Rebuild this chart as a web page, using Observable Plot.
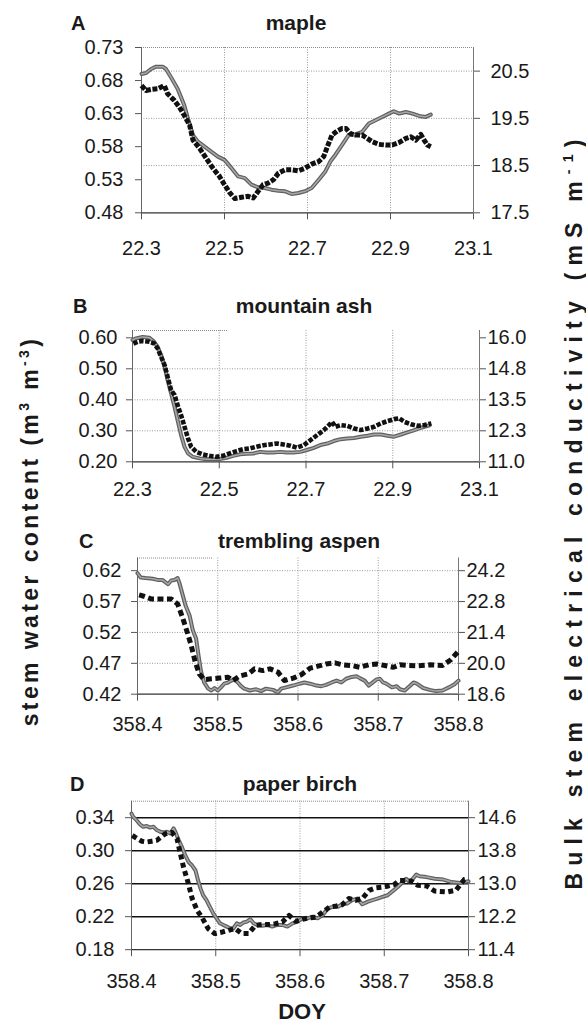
<!DOCTYPE html>
<html><head><meta charset="utf-8">
<script src="https://cdn.jsdelivr.net/npm/d3@7"></script>
<script src="https://cdn.jsdelivr.net/npm/@observablehq/plot@0.6"></script>
<style>
html,body{margin:0;padding:0;background:#fff;}
#wrap{position:relative;width:586px;height:1026px;overflow:hidden;}
#wrap svg{position:absolute;left:0;}
</style></head>
<body><div id="wrap"></div>
<script>
const FONT = '"Liberation Sans", Arial, Helvetica, sans-serif';

// ---------- Panel A: maple ----------
const mapleWcDoy = [22.300,22.311,22.323,22.335,22.351,22.359,22.371,22.387,22.403,22.412,22.424,22.436,22.452,22.468,22.484,22.500,22.517,22.533,22.549,22.565,22.581,22.597,22.613,22.630,22.646,22.662,22.678,22.694,22.710,22.727,22.743,22.755,22.767,22.783,22.799,22.815,22.832,22.848,22.864,22.880,22.896,22.908,22.921,22.937,22.953,22.969,22.985,22.997];
const mapleWc = [0.690,0.6915,0.6975,0.701,0.701,0.6975,0.685,0.6675,0.6425,0.6225,0.5975,0.5875,0.580,0.5725,0.565,0.560,0.5475,0.535,0.5325,0.5225,0.5185,0.5175,0.515,0.5135,0.5125,0.5085,0.510,0.5125,0.5175,0.530,0.5425,0.5575,0.5675,0.5825,0.5975,0.5985,0.6025,0.615,0.620,0.625,0.630,0.6335,0.630,0.6325,0.630,0.6265,0.625,0.6285];
const mapleEcDoy = [22.300,22.311,22.323,22.339,22.355,22.363,22.379,22.391,22.403,22.416,22.424,22.440,22.456,22.472,22.488,22.500,22.513,22.525,22.541,22.557,22.569,22.581,22.593,22.605,22.618,22.630,22.646,22.662,22.678,22.694,22.710,22.727,22.739,22.751,22.759,22.771,22.783,22.793,22.803,22.815,22.832,22.844,22.856,22.872,22.888,22.904,22.921,22.937,22.949,22.961,22.973,22.981,22.989,22.997];
const mapleEc = [20.195,20.09,20.111,20.125,20.195,20.02,19.88,19.74,19.565,19.355,19.04,18.865,18.655,18.445,18.27,18.095,17.92,17.801,17.829,17.85,17.815,17.955,18.095,18.13,18.2,18.34,18.41,18.41,18.389,18.445,18.529,18.585,18.69,18.97,19.145,19.229,19.285,19.285,19.18,19.145,19.145,19.075,19.005,18.949,18.935,18.935,18.991,19.075,19.11,19.04,19.159,19.04,18.935,18.9];

// ---------- Panel B: mountain ash ----------
const ashWcDoy = [22.300,22.308,22.323,22.339,22.350,22.358,22.366,22.374,22.381,22.389,22.397,22.404,22.412,22.420,22.428,22.439,22.455,22.470,22.486,22.501,22.517,22.532,22.548,22.563,22.579,22.594,22.609,22.625,22.640,22.656,22.671,22.687,22.702,22.718,22.733,22.749,22.764,22.780,22.795,22.811,22.826,22.842,22.857,22.873,22.888,22.903,22.919,22.934,22.950,22.965,22.985];
const ashWc = [0.593,0.598,0.603,0.600,0.587,0.571,0.544,0.507,0.463,0.420,0.377,0.334,0.286,0.248,0.227,0.216,0.211,0.208,0.208,0.209,0.213,0.219,0.224,0.226,0.227,0.232,0.230,0.230,0.232,0.230,0.230,0.232,0.238,0.245,0.254,0.259,0.267,0.273,0.275,0.277,0.281,0.284,0.288,0.288,0.284,0.281,0.288,0.295,0.302,0.310,0.318];
const ashEcDoy = [22.302,22.312,22.323,22.339,22.350,22.358,22.366,22.374,22.381,22.389,22.397,22.404,22.412,22.420,22.428,22.435,22.447,22.462,22.478,22.493,22.509,22.524,22.540,22.555,22.571,22.586,22.602,22.617,22.633,22.648,22.664,22.679,22.695,22.710,22.726,22.741,22.753,22.760,22.768,22.780,22.795,22.811,22.826,22.842,22.857,22.873,22.888,22.903,22.915,22.927,22.942,22.958,22.973,22.989];
const ashEc = [15.77,15.84,15.87,15.84,15.77,15.57,15.23,14.90,14.43,13.89,13.69,13.29,12.88,12.41,11.94,11.61,11.40,11.30,11.24,11.20,11.24,11.34,11.43,11.51,11.54,11.61,11.67,11.70,11.74,11.70,11.65,11.57,11.67,11.87,12.08,12.28,12.48,12.61,12.41,12.48,12.45,12.34,12.28,12.34,12.41,12.55,12.64,12.72,12.75,12.61,12.51,12.45,12.48,12.55];

// ---------- Panel C: trembling aspen ----------
const aspenWcDoy = [358.400,358.404,358.410,358.419,358.425,358.431,358.438,358.442,358.446,358.450,358.452,358.456,358.460,358.465,358.469,358.473,358.476,358.479,358.483,358.488,358.492,358.496,358.500,358.504,358.508,358.513,358.517,358.521,358.525,358.529,358.533,358.540,358.548,358.554,358.560,358.569,358.575,358.579,358.585,358.594,358.602,358.608,358.615,358.623,358.629,358.635,358.642,358.648,358.654,358.660,358.667,358.673,358.677,358.683,358.688,358.692,358.698,358.702,358.706,358.710,358.717,358.723,358.727,358.733,358.740,358.744,358.748,358.756,358.764,358.772,358.780,358.788,358.795,358.800];
const aspenWc = [0.616,0.609,0.608,0.607,0.605,0.605,0.598,0.604,0.605,0.608,0.601,0.582,0.563,0.547,0.523,0.510,0.483,0.458,0.439,0.429,0.426,0.430,0.426,0.431,0.437,0.439,0.442,0.444,0.439,0.433,0.429,0.426,0.428,0.425,0.429,0.427,0.423,0.429,0.431,0.434,0.437,0.439,0.437,0.434,0.433,0.435,0.439,0.442,0.439,0.445,0.448,0.449,0.446,0.442,0.434,0.438,0.444,0.445,0.439,0.437,0.431,0.433,0.428,0.426,0.434,0.439,0.437,0.430,0.427,0.425,0.426,0.431,0.436,0.442];
const aspenEcDoy = [358.402,358.408,358.417,358.425,358.433,358.442,358.450,358.456,358.462,358.467,358.472,358.477,358.483,358.492,358.502,358.513,358.519,358.527,358.538,358.546,358.556,358.565,358.575,358.583,358.594,358.604,358.615,358.625,358.635,358.646,358.656,358.667,358.677,358.688,358.698,358.708,358.719,358.727,358.738,358.750,358.765,358.780,358.790,358.800];
const aspenEc = [23.10,23.04,22.92,22.92,22.92,22.92,22.69,22.09,21.41,20.80,20.05,19.52,19.26,19.30,19.33,19.37,19.22,19.42,19.52,19.75,19.67,19.75,19.60,19.22,19.33,19.48,19.78,19.87,19.97,20.02,19.93,19.90,19.82,19.93,19.97,19.90,19.82,19.93,19.90,19.89,19.93,19.90,20.15,20.55];

// ---------- Panel D: paper birch ----------
const birchWcDoy = [358.400,358.402,358.406,358.410,358.414,358.418,358.422,358.426,358.430,358.434,358.438,358.442,358.446,358.450,358.452,358.456,358.460,358.464,358.468,358.472,358.476,358.479,358.482,358.485,358.489,358.493,358.497,358.501,358.505,358.509,358.513,358.517,358.521,358.525,358.529,358.533,358.537,358.541,358.545,358.549,358.555,358.561,358.567,358.573,358.579,358.585,358.591,358.597,358.603,358.609,358.615,358.621,358.627,358.633,358.639,358.645,358.650,358.656,358.662,358.668,358.674,358.680,358.686,358.692,358.698,358.704,358.710,358.716,358.722,358.726,358.730,358.734,358.738,358.742,358.750,358.760,358.770,358.780,358.790,358.800];
const birchWc = [0.345,0.341,0.337,0.332,0.329,0.330,0.328,0.329,0.325,0.323,0.322,0.323,0.321,0.327,0.323,0.313,0.304,0.294,0.286,0.282,0.276,0.264,0.254,0.246,0.240,0.232,0.224,0.218,0.212,0.210,0.208,0.206,0.206,0.212,0.210,0.213,0.214,0.217,0.212,0.210,0.209,0.210,0.208,0.210,0.210,0.208,0.212,0.214,0.218,0.218,0.220,0.218,0.222,0.230,0.232,0.232,0.235,0.236,0.240,0.242,0.235,0.238,0.240,0.242,0.244,0.246,0.251,0.256,0.262,0.266,0.262,0.266,0.271,0.269,0.268,0.266,0.265,0.262,0.261,0.263];
const birchEcDoy = [358.401,358.404,358.412,358.418,358.424,358.430,358.440,358.448,358.454,358.458,358.462,358.467,358.472,358.478,358.484,358.491,358.499,358.508,358.515,358.523,358.531,358.539,358.547,358.555,358.563,358.571,358.579,358.587,358.595,358.603,358.611,358.619,358.627,358.635,358.643,358.650,358.658,358.666,358.674,358.682,358.690,358.698,358.704,358.712,358.718,358.724,358.732,358.740,358.750,358.760,358.775,358.785,358.795,358.800];
const birchEc = [14.17,14.13,14.03,14.01,14.03,14.05,14.21,14.24,14.09,13.73,13.38,13.04,12.64,12.35,12.17,11.91,11.79,11.83,11.87,11.91,11.79,11.79,11.99,12.01,12.01,12.03,12.07,12.23,12.09,12.14,12.17,12.19,12.31,12.43,12.46,12.49,12.64,12.60,12.64,12.84,12.90,12.92,12.94,12.98,13.08,13.08,13.06,12.96,12.95,12.82,12.80,12.84,13.10,13.12];

// ---------- ticks & labels ----------
const doyTicksAB = [22.3, 22.5, 22.7, 22.9, 23.1];
const doyLabelsAB = ["22.3", "22.5", "22.7", "22.9", "23.1"];
const doyTicksCD = [358.4, 358.5, 358.6, 358.7, 358.8];
const doyLabelsCD = ["358.4", "358.5", "358.6", "358.7", "358.8"];

const mapleLeftTicks = [0.48, 0.53, 0.58, 0.63, 0.68, 0.73];
const mapleLeftLabels = ["0.48", "0.53", "0.58", "0.63", "0.68", "0.73"];
const mapleRightTicks = [17.5, 18.5, 19.5, 20.5];
const mapleRightLabels = ["17.5", "18.5", "19.5", "20.5"];

const ashLeftTicks = [0.2, 0.3, 0.4, 0.5, 0.6];
const ashLeftLabels = ["0.20", "0.30", "0.40", "0.50", "0.60"];
const ashRightTicks = [11.0, 12.25, 13.5, 14.75, 16.0];
const ashRightLabels = ["11.0", "12.3", "13.5", "14.8", "16.0"];

const aspenLeftTicks = [0.42, 0.47, 0.52, 0.57, 0.62];
const aspenLeftLabels = ["0.42", "0.47", "0.52", "0.57", "0.62"];
const aspenRightTicks = [18.6, 20.0, 21.4, 22.8, 24.2];
const aspenRightLabels = ["18.6", "20.0", "21.4", "22.8", "24.2"];

const birchLeftTicks = [0.18, 0.22, 0.26, 0.30, 0.34];
const birchLeftLabels = ["0.18", "0.22", "0.26", "0.30", "0.34"];
const birchRightTicks = [11.4, 12.2, 13.0, 13.8, 14.6];
const birchRightLabels = ["11.4", "12.2", "13.0", "13.8", "14.6"];

const panelLetters = ["A", "B", "C", "D"];
const panelTitles = ["maple", "mountain ash", "trembling aspen", "paper birch"];
const xAxisTitle = "DOY";

// ---------- layout ----------
const W = 586;
const panels = [
  { wcDoy: mapleWcDoy, wc: mapleWc, ecDoy: mapleEcDoy, ec: mapleEc,
    xDomain: [22.3, 23.1], xTicks: doyTicksAB, xLabels: doyLabelsAB,
    leftDomain: [0.48, 0.73], leftTicks: mapleLeftTicks, leftLabels: mapleLeftLabels,
    rightDomain: [17.5, 21.0], rightTicks: mapleRightTicks, rightLabels: mapleRightLabels,
    gridY: { right: [18.5, 19.5, 20.5] }, gridX: [22.5, 22.7, 22.9], topFrame: true, stub: null, blackGrid: false,
    top: 0, height: 265, pl: 141, pr: 473, pt: 47, pb: 212.3,
    xPad: 21, lPad: 12, rPad: 11, dash: "5,1.6", dashW: 5 },
  { wcDoy: ashWcDoy, wc: ashWc, ecDoy: ashEcDoy, ec: ashEc,
    xDomain: [22.3, 23.1], xTicks: doyTicksAB, xLabels: doyLabelsAB,
    leftDomain: [0.20, 0.6236], leftTicks: ashLeftTicks, leftLabels: ashLeftLabels,
    rightDomain: [11.0, 16.295], rightTicks: ashRightTicks, rightLabels: ashRightLabels,
    gridY: { left: [0.3, 0.4, 0.5] }, gridX: [22.5, 22.7, 22.9], topFrame: false, stub: [22.3, 22.52], blackGrid: false,
    top: 265, height: 235, pl: 132, pr: 479, pt: 330, pb: 461.3,
    xPad: 13, lPad: 9, rPad: 2, dash: "4.5,1.6", dashW: 4.6 },
  { wcDoy: aspenWcDoy, wc: aspenWc, ecDoy: aspenEcDoy, ec: aspenEc,
    xDomain: [358.4, 358.8], xTicks: doyTicksCD, xLabels: doyLabelsCD,
    leftDomain: [0.42, 0.6405], leftTicks: aspenLeftTicks, leftLabels: aspenLeftLabels,
    rightDomain: [18.6, 24.774], rightTicks: aspenRightTicks, rightLabels: aspenRightLabels,
    gridY: { left: [0.47, 0.52, 0.57, 0.62] }, gridX: [358.5, 358.6, 358.7], topFrame: false, stub: [358.4, 358.495], blackGrid: false,
    top: 500, height: 250, pl: 137, pr: 458, pt: 557.5, pb: 693.7,
    xPad: 16, lPad: 10, rPad: 2, dash: "6,3.5", dashW: 5 },
  { wcDoy: birchWcDoy, wc: birchWc, ecDoy: birchEcDoy, ec: birchEc,
    xDomain: [358.4, 358.8], xTicks: doyTicksCD, xLabels: doyLabelsCD,
    leftDomain: [0.18, 0.360], leftTicks: birchLeftTicks, leftLabels: birchLeftLabels,
    rightDomain: [11.4, 15.0], rightTicks: birchRightTicks, rightLabels: birchRightLabels,
    gridY: { left: [0.22, 0.26, 0.30, 0.34] }, gridX: [358.5, 358.6, 358.7], topFrame: true, stub: null, blackGrid: true,
    top: 750, height: 276, pl: 131, pr: 468, pt: 800.7, pb: 949.2,
    xPad: 17, lPad: 11, rPad: 3, dash: "5,3.5", dashW: 5 }
];
const titleLayout = [
  { lx: 71, tx: 296, by: 30 },
  { lx: 73, tx: 304, by: 313 },
  { lx: 79, tx: 299, by: 548 },
  { lx: 70, tx: 300, by: 791 }
];

const wrap = document.getElementById("wrap");

function labelOf(ticks, labels) {
  return d => {
    const i = ticks.findIndex(t => Math.abs(t - d) < 1e-9);
    return i >= 0 ? labels[i] : "";
  };
}

panels.forEach(p => {
  const toLeft = d3.scaleLinear().domain(p.rightDomain).range(p.leftDomain);
  const wcRows = p.wcDoy.map((d, i) => ({ doy: d, v: p.wc[i] }));
  const ecRows = p.ecDoy.map((d, i) => ({ doy: d, v: toLeft(p.ec[i]) }));
  const rightPos = p.rightTicks.map(t => toLeft(t));
  const gridYPos = p.gridY.right ? p.gridY.right.map(t => toLeft(t)) : p.gridY.left;

  const marks = [
    Plot.ruleX(p.gridX, { stroke: "#9a9a9a", strokeWidth: 1, strokeDasharray: "1,1.5" }),
    p.blackGrid
      ? Plot.ruleY(gridYPos, { stroke: "#111", strokeWidth: 1.6 })
      : Plot.ruleY(gridYPos, { stroke: "#9a9a9a", strokeWidth: 1, strokeDasharray: "1,1.5" }),
    p.topFrame ? Plot.ruleY([p.leftDomain[1]], { stroke: "#8a8a8a", strokeWidth: 1, strokeDasharray: "1,1" }) : null,
    p.stub ? Plot.ruleY([p.leftDomain[1]], { x1: p.stub[0], x2: p.stub[1], stroke: "#8a8a8a", strokeWidth: 1, strokeDasharray: "1,1" }) : null,
    Plot.ruleX([p.xDomain[0]], { stroke: "#666", strokeWidth: 1 }),
    Plot.ruleX([p.xDomain[1]], { stroke: "#777", strokeWidth: 1 }),
    Plot.ruleY([p.leftDomain[0]], { stroke: "#333", strokeWidth: 1.2 }),
    Plot.line(wcRows, { x: "doy", y: "v", stroke: "#606060", strokeWidth: 4 }),
    Plot.line(wcRows, { x: "doy", y: "v", stroke: "#a8a8a8", strokeWidth: 1.5 }),
    Plot.line(ecRows, { x: "doy", y: "v", stroke: "#111", strokeWidth: p.dashW, strokeDasharray: p.dash, strokeLinecap: "butt" }),
    Plot.axisX(p.xTicks, { anchor: "bottom", label: null, tickSize: 7, tickPadding: p.xPad, stroke: "#555", tickFormat: labelOf(p.xTicks, p.xLabels) }),
    Plot.axisY(p.leftTicks, { anchor: "left", label: null, tickSize: 6, tickPadding: p.lPad, stroke: "#555", tickFormat: labelOf(p.leftTicks, p.leftLabels) }),
    Plot.axisY(rightPos, { anchor: "right", label: null, tickSize: 6, tickPadding: p.rPad, stroke: "#555", tickFormat: labelOf(rightPos, p.rightLabels) })
  ].filter(Boolean);

  const svg = Plot.plot({
    width: W,
    height: p.height,
    marginLeft: p.pl,
    marginRight: W - p.pr,
    marginTop: p.pt - p.top,
    marginBottom: p.top + p.height - p.pb,
    x: { domain: p.xDomain, label: null },
    y: { domain: p.leftDomain, label: null },
    style: { fontFamily: FONT, fontSize: "20px", color: "#1a1a1a", background: "transparent", overflow: "visible" },
    marks
  });
  svg.style.top = p.top + "px";
  wrap.appendChild(svg);
});

// ---------- text overlay ----------
const ov = d3.select(wrap).append("svg")
  .attr("width", W).attr("height", 1026)
  .style("top", "0px").style("pointer-events", "none")
  .style("font-family", FONT).style("fill", "#1a1a1a");

titleLayout.forEach((t, i) => {
  ov.append("text").attr("x", t.lx).attr("y", t.by)
    .attr("font-size", 20).attr("font-weight", "bold").text(panelLetters[i]);
  ov.append("text").attr("x", t.tx).attr("y", t.by).attr("text-anchor", "middle")
    .attr("font-size", 21).attr("font-weight", "bold").text(panelTitles[i]);
});

ov.append("text").attr("x", 302).attr("y", 1019).attr("text-anchor", "middle")
  .attr("font-size", 22).attr("font-weight", "bold").text(xAxisTitle);

function rotTitle(x, y, parts, spacing) {
  const t = ov.append("text")
    .attr("transform", `translate(${x},${y}) rotate(-90)`)
    .attr("text-anchor", "middle")
    .attr("font-size", 23).attr("font-weight", "bold")
    .style("letter-spacing", spacing + "px");
  let shifted = false;
  parts.forEach(([s, sup]) => {
    const ts = t.append("tspan").text(s);
    if (sup && !shifted) { ts.attr("dy", -9).attr("font-size", 14); shifted = true; }
    else if (!sup && shifted) { ts.attr("dy", 9); shifted = false; }
  });
}
rotTitle(38, 531, [["stem water content (m"], ["3", true], [" m"], ["-3", true], [")"]], 3.4);
rotTitle(582, 511, [["Bulk stem electrical conductivity (mS m"], ["-1", true], [")"]], 7.2);
</script>
</body></html>
